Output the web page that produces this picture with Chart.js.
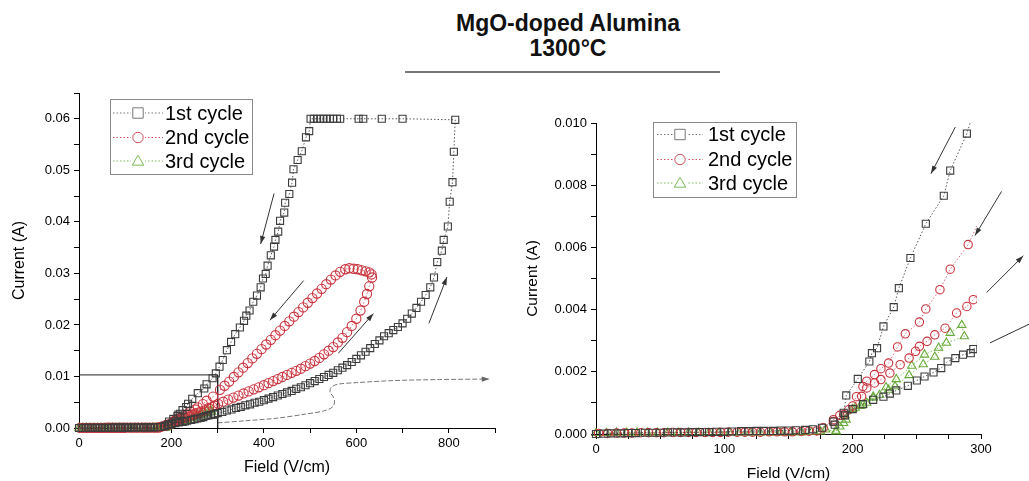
<!DOCTYPE html>
<html>
<head>
<meta charset="utf-8">
<script src="https://cdn.jsdelivr.net/npm/chart.js@4/dist/chart.umd.min.js"></script>
<style>
  body { margin:0; width:1029px; height:481px; background:#fff; position:relative; overflow:hidden; font-family:"Liberation Sans", Arial, sans-serif; }
  .ttl { position:absolute; left:368px; width:400px; text-align:center; font-weight:bold; font-size:23px; color:#111; }
  #rule { position:absolute; left:405px; top:71px; width:315px; height:2px; background:#777; }
  canvas { position:absolute; }
</style>
</head>
<body>
<div class="ttl" style="top:10px">MgO-doped Alumina</div>
<div class="ttl" style="top:35px">1300°C</div>
<div id="rule"></div>
<canvas id="leftChart" width="510" height="401" style="left:0;top:80px"></canvas>
<canvas id="rightChart" width="509" height="381" style="left:520px;top:100px"></canvas>
<script>
var cycle1 = [
  [0,0],[6,0.00001],[12,0.00002],[19,0.00002],[25,0.00003],[31,0.00003],[38,0.00004],[44,0.00004],[50,0.00004],
  [56,0.00005],[63,0.00005],[69,0.00005],[75,0.00006],[81,0.00006],[88,0.00006],[94,0.00007],[100,0.00007],
  [106,0.00008],[113,0.00009],[119,0.00009],[125,0.0001],[131,0.0001],[138,0.0001],[144,0.00011],[150,0.00011],
  [156,0.00012],[163,0.00013],[169,0.00015],[176,0.0002],
  [185,0.0004],[194,0.0006],[200,0.0008],[208,0.00096],[216,0.0011],[224,0.0012],[229,0.0013],[234,0.0014],
  [243,0.00155],[250,0.00172],[256,0.00185],[263,0.00198],[269,0.00212],[274,0.00233],[280,0.00244],[286,0.00255],
  [292,0.0026],[294,0.00273],
  [300,0.0029],[310,0.0031],[320,0.0034],[330,0.0036],[340,0.0039],[350,0.0041],[360,0.0044],[370,0.0046],
  [380,0.0049],[390,0.0051],[400,0.0054],[410,0.0057],[420,0.006],[430,0.0063],[440,0.0066],[450,0.0069],
  [460,0.0072],[470,0.0076],[480,0.0079],[490,0.0083],[500,0.0087],[510,0.0091],[520,0.0095],[530,0.0099],
  [540,0.0103],[550,0.0107],[560,0.0112],[570,0.0117],[580,0.0122],[590,0.0128],[600,0.0134],[610,0.0141],
  [620,0.0148],[630,0.0155],[640,0.0163],[650,0.017],[660,0.0178],[670,0.0184],[680,0.019],[690,0.0196],
  [700,0.0203],[710,0.0212],[720,0.0222],[730,0.0233],[740,0.0245],[750,0.0258],[760,0.0273],[768,0.0292],
  [775,0.0322],[785,0.0344],[789,0.0365],[798,0.0391],[802,0.0439],[808,0.0477],[811,0.0536],[814,0.0598],
  [700,0.06],[655,0.06],[615,0.06],[605,0.06],[565,0.06],[558,0.06],[550,0.06],[543,0.06],[536,0.06],
  [529,0.06],[522,0.06],[515,0.06],[508,0.06],[501,0.06],
  [498,0.0576],[491,0.0564],[482,0.0537],[473,0.052],[464,0.0502],[461,0.0476],[455,0.0454],[446,0.0437],
  [444,0.0418],[435,0.0402],[431,0.0381],[425,0.0365],[422,0.0352],[415,0.0335],[408,0.0315],[404,0.0299],
  [398,0.029],[393,0.0273],[385,0.0257],[377,0.0245],[369,0.0228],[362,0.0218],[357,0.0208],[348,0.0195],
  [338,0.0182],[329,0.0167],[320,0.0151],[311,0.0132],[304,0.0119],[296,0.0106],
  [289,0.00966],[276,0.00847],[271,0.00766],[257,0.00676],[245,0.00566],[236,0.00469],[232,0.00408],
  [224,0.00346],[219,0.00276],[215,0.0026],[213,0.00233],[204,0.00177],[195,0.00124],[193,0.00068],[186,0.0003]
];

var cycle2 = [
  [2,0.00002],[9,0.00002],[16,0.00003],[22,0.00003],[28,0.00003],[35,0.00004],[41,0.00004],[47,0.00004],
  [53,0.00004],[60,0.00005],[66,0.00005],[72,0.00005],[78,0.00005],[85,0.00005],[91,0.00005],[97,0.00005],
  [103,0.00006],[110,0.00006],[116,0.00006],[122,0.00006],[128,0.00006],[135,0.00007],[141,0.00007],
  [147,0.00007],[153,0.00007],[160,0.00008],[166,0.00009],[172,0.0001],
  [177,0.0002],[185,0.00046],[193,0.00062],[200,0.0009],[207,0.00121],[211,0.00148],[217,0.00164],
  [222,0.00175],[229,0.00196],[237,0.00223],[244,0.00244],[249,0.00266],[252,0.00282],[258,0.00298],
  [264,0.00319],[272,0.0034],[281,0.00389],[289,0.0041],[294,0.00432],
  [301,0.0047],[312,0.0051],[323,0.0055],[334,0.0059],[345,0.0063],[356,0.0067],[367,0.0071],[378,0.0075],
  [389,0.0079],[400,0.0083],[410,0.0087],[420,0.0091],[430,0.0095],[440,0.0099],[450,0.0103],[460,0.0107],
  [470,0.0111],[480,0.0115],[490,0.012],[500,0.0125],[510,0.013],[520,0.0136],[530,0.0143],[540,0.015],
  [550,0.0157],[560,0.0166],[570,0.0175],[580,0.0186],[590,0.0198],[600,0.0212],[609,0.0228],[617,0.0245],
  [623,0.026],[628,0.0275],[634,0.0292],
  [633,0.0298],[628,0.0302],[620,0.0304],[612,0.0306],[603,0.0308],[594,0.0309],[585,0.031],[576,0.0308],
  [565,0.0303],[555,0.0296],[545,0.0288],[535,0.0279],[525,0.027],[515,0.0261],[505,0.0252],[495,0.0243],
  [485,0.0234],[475,0.0225],[465,0.0216],[455,0.0207],[445,0.0198],[435,0.0189],[425,0.018],[415,0.0171],
  [405,0.0162],[395,0.0153],[385,0.0144],[375,0.0135],[365,0.0126],[355,0.0117],[345,0.0108],[335,0.0099],
  [325,0.009],[315,0.0082],[305,0.0074],
  [290,0.00609],[276,0.0053],[268,0.00464],[257,0.00402],[252,0.0036],[241,0.00322],[235,0.0028],
  [228,0.00228],[222,0.0021],[217,0.00191],[211,0.0017],[208,0.00153],[203,0.0012],[197,0.00078],
  [190,0.0006],[185,0.0004]
];

var cycle3 = [
  [0,0.00003],[8,0.00003],[16,0.00004],[24,0.00004],[32,0.00004],[40,0.00004],[48,0.00004],[56,0.00004],
  [64,0.00004],[72,0.00004],[80,0.00004],[88,0.00004],[96,0.00004],[104,0.00004],[112,0.00004],[120,0.00004],
  [128,0.00004],[136,0.00004],[144,0.00004],[152,0.00004],[160,0.00005],[168,0.00006],[175,0.00008],
  [179,0.00014],[187,0.00008],[190,0.00024],[195,0.00046],[202,0.00084],[208,0.00094],[216,0.00116],
  [221,0.00126],[228,0.00142],[233,0.00153],[244,0.00189],[255,0.00224],[264,0.00248],[273,0.00293],
  [287,0.00314],
  [285,0.0035],[276,0.00325],[267,0.00277],[256,0.00255],[246,0.00219],[234,0.00176],[226,0.0015],
  [216,0.0012],[211,0.001],[206,0.0009],[200,0.0008],[194,0.0006],[193,0.00035],[187,0.0001]
];

var seriesNames = ['1st cycle', '2nd cycle', '3rd cycle'];

// zoom window marked on the left panel, and the thin guide curve
var insetBox = [[0,0.0103],[300,0.0103],[300,0]];
var guideCurve = [[300,0.001],[360,0.0014],[428,0.0019],[490,0.0027],[529,0.0033],[549,0.0041],[553,0.0052],
  [549,0.0062],[543,0.0069],[546,0.0079],[560,0.0085],[600,0.0088],[680,0.0092],[780,0.0094],[880,0.0095]];

// sweep direction arrows [x1, y1, x2, y2] in data units
var leftArrows = [[422,0.0455,393,0.0357],[486,0.0286,413,0.0209],[561,0.0145,637,0.0222],[757,0.0203,796,0.0293]];
var rightArrows = [[280,0.00987,261,0.00837],[316,0.0078,295.3,0.00638],[304.4,0.00455,333,0.00573]];
var rightOpenLines = [[307,0.00293,345,0.00368]];

var FONT = '"Liberation Sans", Arial, sans-serif';
var pointColors = ['#3c3c3c', '#c8323c', '#6aaa3a'];
var lineColors = ['rgba(60,60,60,0.85)', 'rgba(214,100,112,0.9)', 'rgba(120,185,80,0.9)'];
var legendColors = ['#777', '#d0505e', '#7cba58'];
var styles = ['rect', 'circle', 'triangle'];

function toPts(list) {
    return list.map(function(p){ return {x:p[0], y:p[1]}; });
}

function arrowHead(ctx, x1, y1, x2, y2) {
    var a = Math.atan2(y2-y1, x2-x1);
    ctx.beginPath();
    ctx.moveTo(x2, y2);
    ctx.lineTo(x2 - 8*Math.cos(a) + 2.6*Math.sin(a), y2 - 8*Math.sin(a) - 2.6*Math.cos(a));
    ctx.lineTo(x2 - 8*Math.cos(a) - 2.6*Math.sin(a), y2 - 8*Math.sin(a) + 2.6*Math.cos(a));
    ctx.closePath();
    ctx.fill();
}

function marker(ctx, style, x, y, r) {
    ctx.beginPath();
    if (style == 'rect') {
        ctx.rect(x-r, y-r, 2*r, 2*r);
    } else if (style == 'circle') {
        ctx.arc(x, y, r, 0, Math.PI*2);
    } else {
        ctx.moveTo(x, y-r*1.1);
        ctx.lineTo(x+r*1.1, y+r*0.8);
        ctx.lineTo(x-r*1.1, y+r*0.8);
        ctx.closePath();
    }
    ctx.stroke();
}

// legend box + arrows drawn after the datasets
var extrasPlugin = {
    id: 'extras',
    afterDatasetsDraw: function(chart, args, opts) {
        var ctx = chart.ctx, xs = chart.scales.x, ys = chart.scales.y;
        ctx.save();
        ctx.strokeStyle = '#333';
        ctx.fillStyle = '#333';
        ctx.lineWidth = 1;
        ctx.setLineDash([]);
        (opts.arrows || []).forEach(function(a){
            var x1 = xs.getPixelForValue(a[0]), y1 = ys.getPixelForValue(a[1]);
            var x2 = xs.getPixelForValue(a[2]), y2 = ys.getPixelForValue(a[3]);
            ctx.beginPath(); ctx.moveTo(x1, y1); ctx.lineTo(x2, y2); ctx.stroke();
            arrowHead(ctx, x1, y1, x2, y2);
        });
        (opts.lines || []).forEach(function(a){
            ctx.beginPath();
            ctx.moveTo(xs.getPixelForValue(a[0]), ys.getPixelForValue(a[1]));
            ctx.lineTo(xs.getPixelForValue(a[2]), ys.getPixelForValue(a[3]));
            ctx.stroke();
        });
        if (opts.curveHead) {
            var n = guideCurve.length;
            ctx.fillStyle = '#666';
            arrowHead(ctx, xs.getPixelForValue(guideCurve[n-3][0]), ys.getPixelForValue(guideCurve[n-3][1]),
                xs.getPixelForValue(guideCurve[n-1][0]) + 4, ys.getPixelForValue(guideCurve[n-1][1]));
        }

        // legend
        var L = opts.legend;
        ctx.fillStyle = '#fff';
        ctx.fillRect(L.x, L.y, L.w, L.h);
        ctx.strokeStyle = '#8a8a8a';
        ctx.strokeRect(L.x + 0.5, L.y + 0.5, L.w, L.h);
        ctx.font = '20px ' + FONT;
        ctx.textBaseline = 'middle';
        seriesNames.forEach(function(name, i){
            var y = L.rows[i];
            ctx.strokeStyle = legendColors[i];
            ctx.setLineDash([1.5, 2]);
            ctx.beginPath(); ctx.moveTo(L.lineX0, y); ctx.lineTo(L.lineX1, y); ctx.stroke();
            ctx.setLineDash([]);
            ctx.fillStyle = '#fff';
            var mx = (L.lineX0 + L.lineX1) / 2;
            ctx.fillRect(mx-7, y-7, 14, 14);
            marker(ctx, styles[i], mx, y, 5.2);
            ctx.fillStyle = '#000';
            ctx.fillText(name, L.textX, y + 1);
        });
        ctx.restore();
    }
};

function makePanel(id, cfg) {
    var datasets = [cycle1, cycle2, cycle3].map(function(list, i){
        return {
            label: seriesNames[i],
            data: toPts(list),
            showLine: true,
            borderColor: lineColors[i],
            borderWidth: 1,
            borderDash: [1.5, 2],
            pointStyle: styles[i],
            pointRadius: cfg.radius[i],
            pointBorderWidth: 1.1,
            pointBorderColor: pointColors[i],
            pointBackgroundColor: 'rgba(0,0,0,0)',
            clip: cfg.clip
        };
    });
    datasets = datasets.concat(cfg.extraSets || []);

    return new Chart(document.getElementById(id), {
        type: 'scatter',
        data: { datasets: datasets },
        plugins: [extrasPlugin],
        options: {
            responsive: false,
            animation: false,
            events: [],
            layout: { padding: cfg.padding },
            plugins: {
                legend: { display: false },
                tooltip: { enabled: false },
                extras: cfg.extras
            },
            scales: {
                x: {
                    type: 'linear', min: cfg.xMin, max: cfg.xMax,
                    border: { color: '#000', width: 1 },
                    grid: { drawOnChartArea: false, tickLength: 5, tickColor: '#000' },
                    ticks: {
                        stepSize: cfg.xStep, autoSkip: false, maxRotation: 0, padding: 3,
                        color: '#000', font: { family: FONT, size: 13 },
                        callback: cfg.xLabel
                    },
                    title: { display: true, text: 'Field (V/cm)', color: '#000',
                        font: { family: FONT, size: cfg.titleSize, lineHeight: 1 }, padding: cfg.xTitlePad },
                    afterFit: function(s){ s.height = cfg.xHeight; }
                },
                y: {
                    type: 'linear', min: 0, max: cfg.yMax,
                    border: { color: '#000', width: 1 },
                    grid: { drawOnChartArea: false, tickLength: 5, tickColor: '#000' },
                    ticks: {
                        stepSize: cfg.yStep, autoSkip: false, padding: 4,
                        color: '#000', font: { family: FONT, size: 13 },
                        callback: cfg.yLabel
                    },
                    title: { display: true, text: 'Current (A)', color: '#000',
                        font: { family: FONT, size: cfg.titleSize, lineHeight: 1 }, padding: cfg.yTitlePad },
                    afterFit: function(s){ s.width = cfg.yWidth; }
                }
            }
        }
    });
}

makePanel('leftChart', {
    xMin: 0, xMax: 900, xStep: 100, yMax: 0.065, yStep: 0.005,
    radius: [5, 4.6, 4.8],
    clip: false,
    padding: { left: 0, top: 13, right: 15, bottom: 0 },
    xHeight: 53, yWidth: 79, titleSize: 16,
    xTitlePad: { top: 0, bottom: 5 }, yTitlePad: { top: 12, bottom: 0 },
    xLabel: function(v){ return (v % 200 === 0 && v <= 800) ? String(v) : ''; },
    yLabel: function(v){ var k = Math.round(v*1000); return (k % 10 === 0 && k <= 60) ? (k/1000).toFixed(2) : ''; },
    extraSets: [
        { data: toPts(insetBox), showLine: true, borderColor: '#222', borderWidth: 1, pointRadius: 0, clip: false },
        { data: toPts(guideCurve), showLine: true, borderColor: '#777', borderWidth: 1, borderDash: [5, 2],
          tension: 0.3, pointRadius: 0, clip: false }
    ],
    extras: {
        arrows: leftArrows, curveHead: true,
        legend: { x: 110, y: 19, w: 142, h: 75, rows: [33, 57.5, 81], lineX0: 113, lineX1: 163, textX: 165 }
    }
});

makePanel('rightChart', {
    xMin: 0, xMax: 300, xStep: 25, yMax: 0.010, yStep: 0.001,
    radius: [5, 4.2, 4.8],
    clip: { left: 6, top: 0, right: -4, bottom: 6 },
    padding: { left: 0, top: 23, right: 48, bottom: 0 },
    xHeight: 47, yWidth: 76, titleSize: 15.5,
    xTitlePad: { top: 0, bottom: 0 }, yTitlePad: { top: 5, bottom: 0 },
    xLabel: function(v){ return (v % 100 === 0) ? String(v) : ''; },
    yLabel: function(v){ var k = Math.round(v*1000); return (k % 2 === 0) ? (k/1000).toFixed(3) : ''; },
    extras: {
        arrows: rightArrows, lines: rightOpenLines,
        legend: { x: 133, y: 22, w: 143, h: 75, rows: [34.5, 59.5, 83], lineX0: 137, lineX1: 183, textX: 188 }
    }
});
</script>
</body>
</html>
